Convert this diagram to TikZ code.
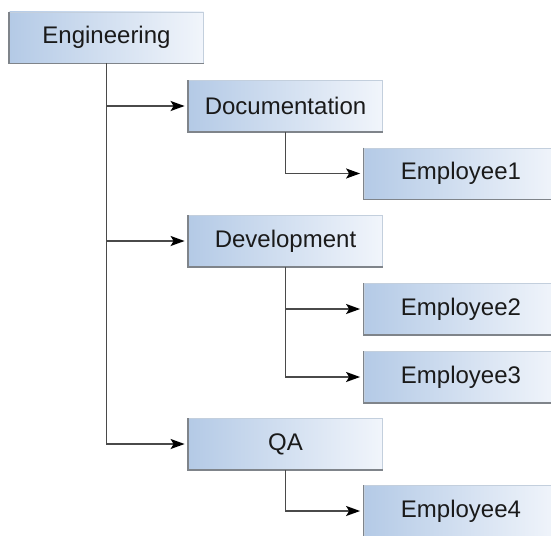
\documentclass[tikz,border=0pt]{standalone}
\usepackage{fontspec}
\setmainfont{Liberation Sans}
\usetikzlibrary{arrows.meta}
\definecolor{boxleft}{HTML}{B4CAE6}
\definecolor{boxright}{HTML}{F1F5FB}
\definecolor{edgelight}{HTML}{C3CFDD}
\definecolor{edgedark}{HTML}{7F848A}
\definecolor{linkcol}{HTML}{4A4A4A}
\definecolor{txtcol}{HTML}{1A1A1A}
\tikzset{
  orgbox/.style={rectangle, minimum width=194pt, minimum height=51pt, inner sep=0pt,
    left color=boxleft, right color=boxright, draw=edgelight, line width=0.8pt,
    text=txtcol, font=\fontsize{24}{28}\selectfont},
  darkedge/.style={draw=edgedark, line width=1.6pt},
  link/.style={draw=linkcol, line width=1.5pt, -{Stealth[length=14pt,width=10pt,inset=3pt,color=black]}, shorten >=3.5pt}
}
\begin{document}
\begin{tikzpicture}[x=1pt,y=-1pt]
\useasboundingbox (0,0) rectangle (551,535);
\node[orgbox] (eng) at (106.5,37.5) {Engineering};
\node[orgbox] (doc) at (285.5,106) {Documentation};
\node[orgbox] (emp1) at (461,173.5) {Employee1};
\node[orgbox] (dev) at (285.5,241) {Development};
\node[orgbox] (emp2) at (461,309) {Employee2};
\node[orgbox] (emp3) at (461,377) {Employee3};
\node[orgbox] (qa) at (285.5,444) {QA};
\node[orgbox] (emp4) at (461,511) {Employee4};
\foreach \n in {eng,doc,emp1,dev,emp2,emp3,qa,emp4}{
  \draw[darkedge] (\n.north west) -- (\n.south west) -- (\n.south east);
}
\draw[link] (eng.south) |- (doc.west);
\draw[link] (eng.south) |- (dev.west);
\draw[link] (eng.south) |- (qa.west);
\draw[link] (doc.south) |- (emp1.west);
\draw[link] (dev.south) |- (emp2.west);
\draw[link] (dev.south) |- (emp3.west);
\draw[link] (qa.south) |- (emp4.west);
\end{tikzpicture}
\end{document}
